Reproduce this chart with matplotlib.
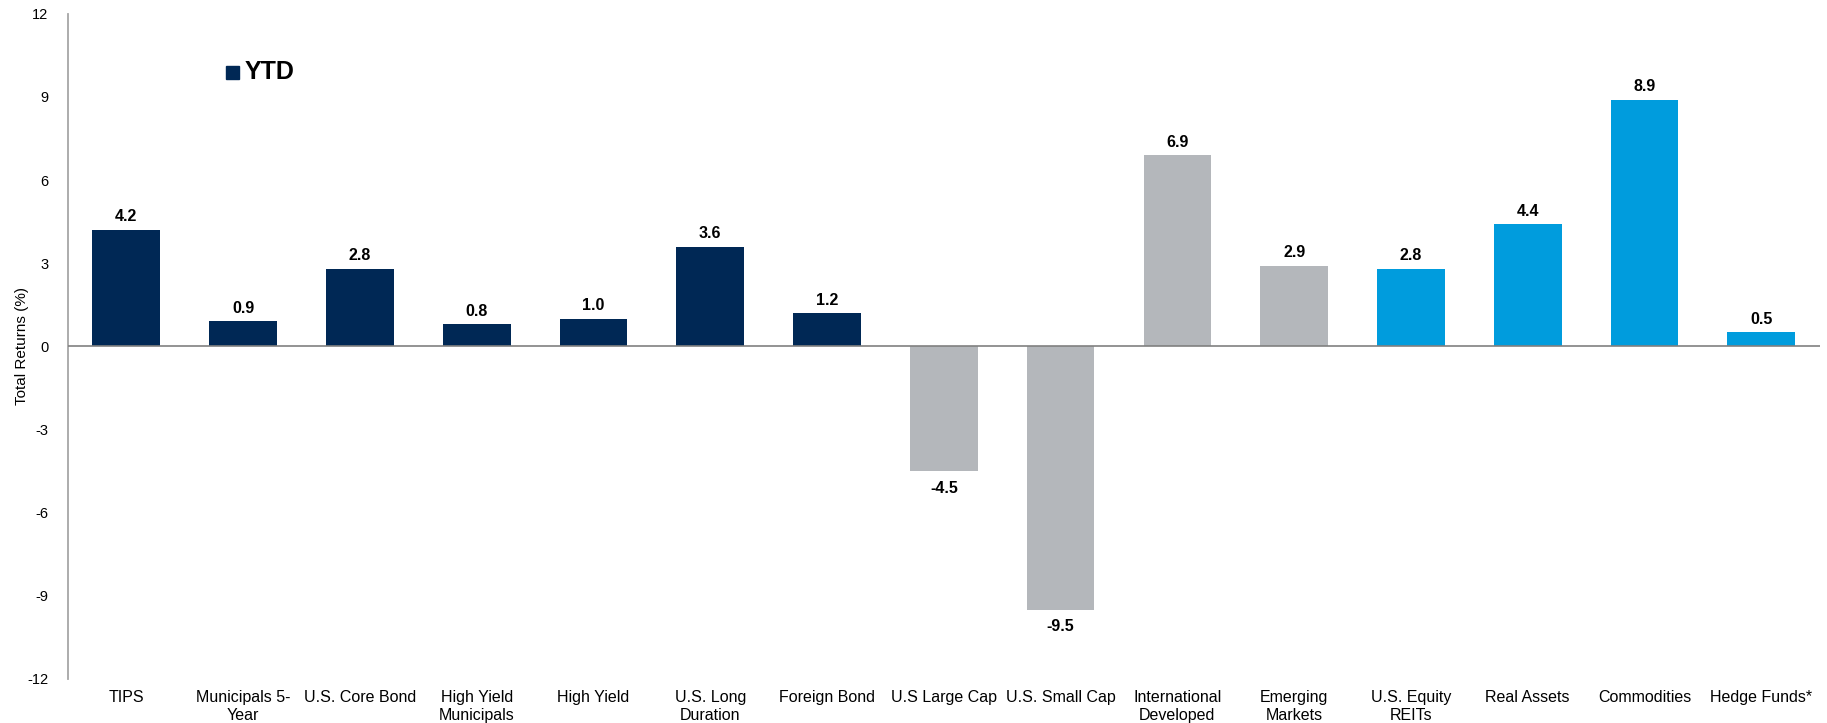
import matplotlib.pyplot as plt
from matplotlib import rcParams
from matplotlib.patches import Rectangle
import numpy as np

rcParams["font.family"] = ["Liberation Sans", "DejaVu Sans"]

categories = ["TIPS", "Municipals 5-\nYear", "U.S. Core Bond", "High Yield\nMunicipals",
              "High Yield", "U.S. Long\nDuration", "Foreign Bond", "U.S Large Cap",
              "U.S. Small Cap", "International\nDeveloped", "Emerging\nMarkets",
              "U.S. Equity\nREITs", "Real Assets", "Commodities", "Hedge Funds*"]
ytd = [4.2, 0.9, 2.8, 0.8, 1.0, 3.6, 1.2, -4.5, -9.5, 6.9, 2.9, 2.8, 4.4, 8.9, 0.5]
groups = ["fixed"] * 7 + ["equity"] * 4 + ["real"] * 4

navy = "#002855"
gray = "#b4b7bb"
blue = "#009cdd"
group_colors = {"fixed": navy, "equity": gray, "real": blue}


def plot_returns():
    fig = plt.figure(figsize=(18.27, 7.23), dpi=100)
    ax = fig.add_axes([0.0372, 0.061, 0.9588, 0.92])

    x = np.arange(len(categories))
    colors = [group_colors[g] for g in groups]
    ax.bar(x, ytd, width=0.58, color=colors, zorder=2)

    for xi, v in zip(x, ytd):
        if v >= 0:
            ax.annotate(f"{v:.1f}", (xi, v), xytext=(0, 4), textcoords="offset points",
                        ha="center", va="bottom", fontsize=11.5, fontweight="bold")
        else:
            ax.annotate(f"{v:.1f}", (xi, v), xytext=(0, -7), textcoords="offset points",
                        ha="center", va="top", fontsize=11.5, fontweight="bold")

    ax.set_xlim(-0.5, len(categories) - 0.5)
    ax.set_ylim(-12, 12)
    ax.set_yticks(np.arange(-12, 13, 3))
    ax.set_yticklabels([f"{t}" for t in np.arange(-12, 13, 3)], fontsize=10.5)
    ax.tick_params(axis="y", length=0, pad=14)

    ax.set_xticks([])
    for xi, lab in zip(x, categories):
        ax.text(xi, -12.4, lab, ha="center", va="top", fontsize=11.5, linespacing=1.25)

    ax.axhline(0, color="#808080", linewidth=1.2, zorder=3)
    for s in ["top", "right", "bottom"]:
        ax.spines[s].set_visible(False)
    ax.spines["left"].set_color("#a6a6a6")
    ax.spines["left"].set_linewidth(1.3)

    ax.set_ylabel("Total Returns (%)", fontsize=11)
    ax.yaxis.set_label_coords(-0.022, 0.5)

    # legend
    fig.patches.append(Rectangle((226 / 1827, 1 - 79 / 723), 13 / 1827, 13 / 723,
                                 transform=fig.transFigure, color=navy))
    fig.text(245 / 1827, 1 - 72 / 723, "YTD", fontsize=18, fontweight="bold",
             ha="left", va="center")

    fig.savefig("out.png", dpi=100)


if __name__ == "__main__":
    plot_returns()
